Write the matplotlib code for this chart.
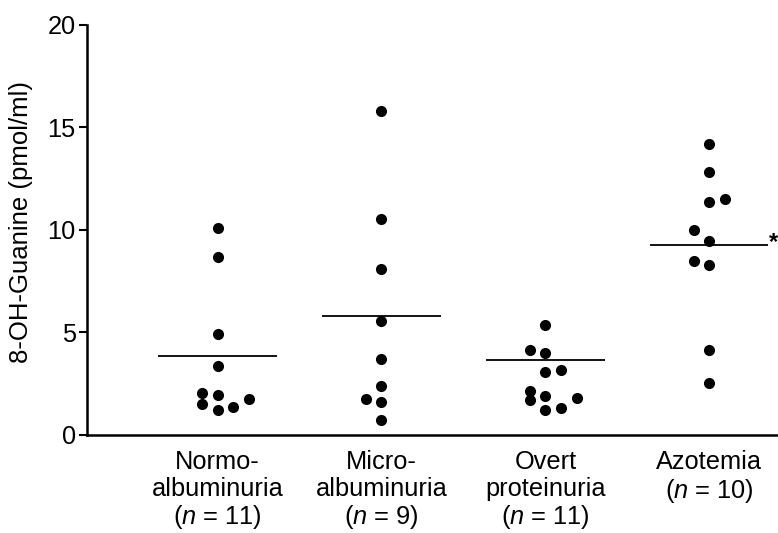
import matplotlib
matplotlib.use("Agg")
import matplotlib.pyplot as plt

plt.rcParams['font.family'] = ['Liberation Sans', 'DejaVu Sans']
plt.rcParams['mathtext.fontset'] = 'custom'
plt.rcParams['mathtext.rm'] = 'Liberation Sans'
plt.rcParams['mathtext.it'] = 'Liberation Sans:italic'

# values
groups = ['Normo-\nalbuminuria', 'Micro-\nalbuminuria', 'Overt\nproteinuria', 'Azotemia']
n_counts = [11, 9, 11, 10]
normo = [10.1, 8.7, 4.95, 3.37, 2.03, 1.97, 1.53, 1.2, 1.35, 1.74]
micro = [15.8, 10.55, 8.1, 5.58, 3.69, 2.39, 1.76, 1.6, 0.73]
overt = [5.37, 4.16, 4.02, 3.07, 3.19, 2.13, 1.72, 1.9, 1.79, 1.22, 1.33]
azot = [14.2, 12.85, 11.35, 11.5, 10.0, 9.46, 8.5, 8.29, 4.15, 2.55]
group_lines = [3.87, 5.82, 3.64, 9.27]

# column slot of each dot in the scatter (side-by-side dots)
normo_slot = [0, 0, 0, 0, -1, 0, -1, 0, 1, 2]
micro_slot = [0, 0, 0, 0, 0, 0, -1, 0, 0]
overt_slot = [0, -1, 0, 0, 1, -1, -1, 0, 2, 0, 1]
azot_slot = [0, 0, 0, 1, -1, 0, -1, 0, 0, 0]

values = [normo, micro, overt, azot]
slots = [normo_slot, micro_slot, overt_slot, azot_slot]

fig = plt.figure(figsize=(7.78, 5.33), dpi=100)
ax = fig.add_axes([0.1118, 0.1839, 0.8882, 0.7692])

step = 0.095
for i, (vals, sl) in enumerate(zip(values, slots)):
    xs = [i + 1 + s * step for s in sl]
    ax.plot(xs, vals, 'o', color='black', markersize=8, markeredgewidth=0)
    ax.hlines(group_lines[i], i + 1 - 0.36, i + 1 + 0.36, color='black', linewidth=1.3)

# significance mark next to the azotemia line
ax.text(4 + 0.362, group_lines[3] + 0.1, '*', fontsize=17, fontweight='bold',
        ha='left', va='center', clip_on=False)

ax.set_xlim(0.204, 4.418)
ax.set_ylim(0, 20)
ax.set_yticks([0, 5, 10, 15, 20])
ax.set_xticks([1, 2, 3, 4])
ax.set_xticklabels([f'{g}\n($n$ = {n})' for g, n in zip(groups, n_counts)],
                   fontsize=18.3, linespacing=1.12)
ax.tick_params(axis='x', length=0, pad=11)
ax.tick_params(axis='y', labelsize=18.3, width=1.5, length=6, pad=2)
ax.set_ylabel('8-OH-Guanine (pmol/ml)', fontsize=18.5)
ax.yaxis.set_label_coords(-0.078, 0.52)

for side in ['top', 'right']:
    ax.spines[side].set_visible(False)
for side in ['left', 'bottom']:
    ax.spines[side].set_linewidth(1.8)

fig.savefig('out.png', dpi=100)
